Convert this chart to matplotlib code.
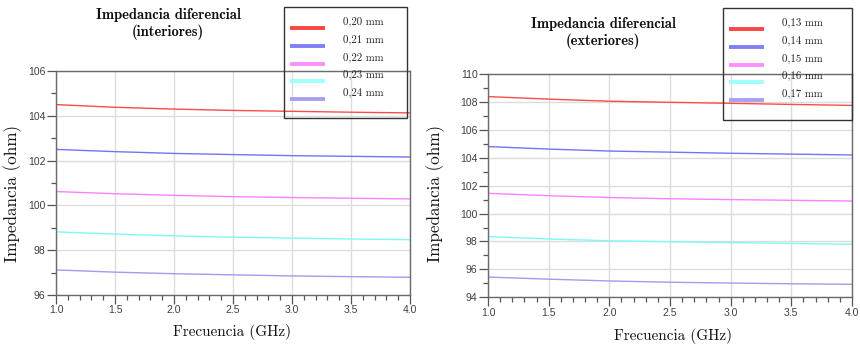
"""Impedancia diferencial vs frecuencia, pistas interiores y exteriores."""

from matplotlib import pyplot as plt
from matplotlib.lines import Line2D
from matplotlib.patches import Rectangle
import numpy as np

# Frequency samples (GHz)
freq = np.array([1.0, 1.5, 2.0, 2.5, 3.0, 3.5, 4.0])

# Interior traces, impedance (ohm)
int_labels = ["0,20 mm", "0,21 mm", "0,22 mm", "0,23 mm", "0,24 mm"]
int_020 = [104.50, 104.38, 104.30, 104.24, 104.20, 104.16, 104.13]
int_021 = [102.50, 102.40, 102.32, 102.27, 102.22, 102.19, 102.16]
int_022 = [100.62, 100.52, 100.45, 100.39, 100.35, 100.32, 100.29]
int_023 = [98.82, 98.72, 98.64, 98.58, 98.54, 98.50, 98.47]
int_024 = [97.12, 97.02, 96.95, 96.90, 96.85, 96.82, 96.79]

# Exterior traces, impedance (ohm)
ext_labels = ["0,13 mm", "0,14 mm", "0,15 mm", "0,16 mm", "0,17 mm"]
ext_013 = [108.38, 108.20, 108.05, 107.97, 107.90, 107.82, 107.75]
ext_014 = [104.80, 104.62, 104.48, 104.40, 104.32, 104.26, 104.20]
ext_015 = [101.45, 101.28, 101.15, 101.06, 101.00, 100.95, 100.90]
ext_016 = [98.35, 98.18, 98.05, 97.98, 97.92, 97.86, 97.80]
ext_017 = [95.45, 95.30, 95.17, 95.08, 95.02, 94.97, 94.93]

line_colors = ["#ff4a4a", "#7474f2", "#ff80ff", "#80f8f8", "#a898ee"]
legend_colors = ["#ff4444", "#8080f4", "#ff90ff", "#a0ffff", "#a8a0f0"]

SERIF = "cmr10"
SERIF_BOLD = "cmb10"
SANS = "Liberation Sans"

fig = plt.figure(figsize=(8.6, 3.49), dpi=100)


def px(x, y):
    """Pixel position (from top-left) to figure fraction."""
    return x / 860, 1 - y / 349


def setup_axes(rect, ylim, ymajor):
    ax = fig.add_axes(rect)
    ax.set_xlim(1.0, 4.0)
    ax.set_ylim(*ylim)
    ax.set_xticks(np.arange(1.0, 4.01, 0.5))
    ax.set_xticks(np.arange(1.0, 4.01, 0.1), minor=True)
    ax.set_yticks(np.arange(ylim[0], ylim[1] + 0.1, ymajor))
    ax.set_yticks(np.arange(ylim[0], ylim[1] + 0.1, ymajor / 2), minor=True)
    ax.xaxis.set_major_formatter(plt.FormatStrFormatter("%.1f"))
    ax.yaxis.set_major_formatter(plt.FormatStrFormatter("%d"))
    ax.grid(True, which="major", color="#dcdcdc", lw=1.0)
    ax.set_axisbelow(True)
    for side in ax.spines.values():
        side.set_color("#6a6a6a")
        side.set_linewidth(1.0)
    ax.tick_params(which="major", length=6.5, width=0.9, color="#555555",
                   direction="out", labelsize=7.5, labelcolor="#404040", pad=1)
    ax.tick_params(which="minor", length=3.6, width=0.9, color="#555555",
                   direction="out")
    for lab in ax.get_xticklabels() + ax.get_yticklabels():
        lab.set_family(SANS)
    return ax


def draw_legend(left, top, right, bottom, labels):
    x0, y0 = px(left, bottom)
    x1, y1 = px(right, top)
    fig.add_artist(Rectangle((x0, y0), x1 - x0, y1 - y0, transform=fig.transFigure,
                             facecolor="none", edgecolor="#333333", lw=1.0))
    for i, (lab, col) in enumerate(zip(labels, legend_colors)):
        yl = top + 21 + i * 17.8
        a = px(left + 6, yl)
        b = px(left + 41, yl)
        fig.add_artist(Line2D([a[0], b[0]], [a[1], b[1]], transform=fig.transFigure,
                              color=col, lw=2.8, solid_capstyle="butt"))
        t = px(left + 59, yl - 6)
        fig.text(t[0], t[1], lab, family=SERIF, fontsize=7.8, ha="left",
                 va="center", color="#222222")


panels = [
    dict(rect=[56 / 860, 1 - 295 / 349, 354 / 860, 224 / 349], ylim=(96, 106), ymajor=2,
         series=[int_020, int_021, int_022, int_023, int_024], labels=int_labels,
         title="Impedancia diferencial\n(interiores)", title_xy=(168, 24),
         legend=(284, 7, 407, 118), ylab_xy=(13, 193), xlab_xy=(232, 332)),
    dict(rect=[488 / 860, 1 - 297.3 / 349, 364 / 860, 223.3 / 349], ylim=(94, 110), ymajor=2,
         series=[ext_013, ext_014, ext_015, ext_016, ext_017], labels=ext_labels,
         title="Impedancia diferencial\n(exteriores)", title_xy=(603, 33),
         legend=(723, 8, 852, 120), ylab_xy=(436, 193), xlab_xy=(673, 336)),
]

for p in panels:
    ax = setup_axes(p["rect"], p["ylim"], p["ymajor"])
    for vals, col in zip(p["series"], line_colors):
        ax.plot(freq, vals, color=col, lw=1.0)

    tx, ty = px(*p["title_xy"])
    fig.text(tx, ty, p["title"], family=SERIF_BOLD, fontsize=10.5, ha="center",
             va="center", linespacing=1.2, color="#111111")

    lx, ly = px(*p["ylab_xy"])
    fig.text(lx, ly, "Impedancia (ohm)", family=SERIF, fontsize=12.3, rotation=90,
             ha="center", va="center", color="#111111")

    xx, xy = px(*p["xlab_xy"])
    fig.text(xx, xy, "Frecuencia (GHz)", family=SERIF, fontsize=10.9, ha="center",
             va="center", color="#111111")

    draw_legend(*p["legend"], p["labels"])

fig.savefig("out.png", dpi=100, facecolor="white")
